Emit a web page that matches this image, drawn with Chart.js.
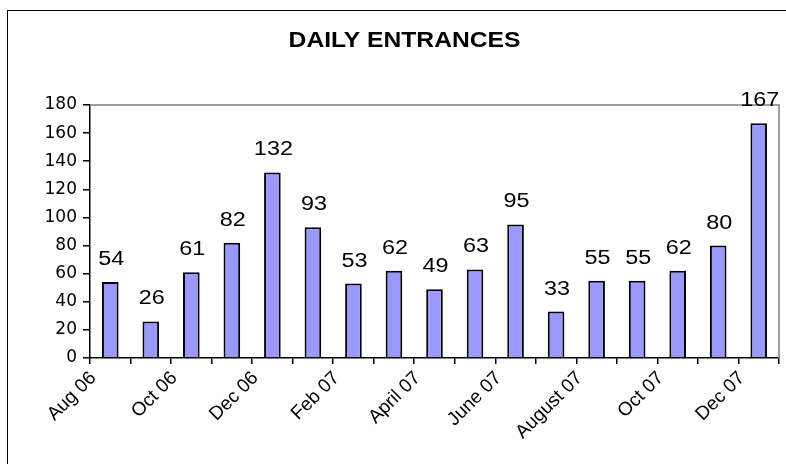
<!DOCTYPE html>
<html>
<head>
<meta charset="utf-8">
<script src="https://cdn.jsdelivr.net/npm/chart.js@4.4.1/dist/chart.umd.min.js"></script>
<style>
  html, body { margin: 0; padding: 0; background: #fff; overflow: hidden; }
  #frame { position: absolute; left: 7px; top: 10px; width: 830px; height: 520px; border: 1.5px solid #000; }
  #wrap { position: absolute; left: 0; top: 0; width: 786px; height: 464px; }
</style>
</head>
<body>
<div id="frame"></div>
<div id="wrap"><canvas id="chart" width="786" height="464"></canvas></div>
<script>
const chartTitle = 'DAILY ENTRANCES'
const months = ['Aug 06', 'Sep 06', 'Oct 06', 'Nov 06', 'Dec 06', 'Jan 07', 'Feb 07', 'Mar 07', 'April 07',
  'May 07', 'June 07', 'July 07', 'August 07', 'Sep 07', 'Oct 07', 'Nov 07', 'Dec 07']
const entrances = [54, 26, 61, 82, 132, 93, 53, 62, 49, 63, 95, 33, 55, 55, 62, 80, 167]
const yMax = 180
const yStep = 20

const FONT = '"Liberation Sans", Arial, sans-serif'

// numbers above the bars, a bit stretched like the original
const valueLabels = {
  id: 'valueLabels',
  afterDatasetsDraw(chart) {
    const ctx = chart.ctx
    const meta = chart.getDatasetMeta(0)
    ctx.save()
    ctx.font = '19.5px ' + FONT
    ctx.fillStyle = '#000'
    ctx.textAlign = 'center'
    ctx.textBaseline = 'alphabetic'
    meta.data.forEach((bar, i) => {
      ctx.save()
      ctx.translate(bar.x + 1, bar.y - 17)
      ctx.scale(1.2, 1)
      ctx.fillText(String(entrances[i]), 0, 0)
      ctx.restore()
    })
    ctx.restore()
  }
}

// gray top/right of plot area + title
const plotFrame = {
  id: 'plotFrame',
  beforeDatasetsDraw(chart) {
    const { ctx, chartArea } = chart
    ctx.save()
    ctx.strokeStyle = '#808080'
    ctx.lineWidth = 1.5
    ctx.beginPath()
    ctx.moveTo(chartArea.left, chartArea.top)
    ctx.lineTo(chartArea.right, chartArea.top)
    ctx.lineTo(chartArea.right, chartArea.bottom)
    ctx.stroke()
    ctx.restore()
  },
  afterDraw(chart) {
    const ctx = chart.ctx
    ctx.save()
    ctx.font = 'bold 22px ' + FONT
    ctx.fillStyle = '#000'
    ctx.textAlign = 'center'
    ctx.textBaseline = 'alphabetic'
    ctx.translate(404.5, 47)
    ctx.scale(1.12, 1)
    ctx.fillText(chartTitle, 0, 0)
    ctx.restore()
  }
}

const ctx = document.getElementById('chart').getContext('2d')

new Chart(ctx, {
  type: 'bar',
  data: {
    labels: months,
    datasets: [{
      label: 'Entrances',
      data: entrances,
      backgroundColor: '#9999ff',
      borderColor: '#000',
      borderWidth: 2,
      barPercentage: 0.41,
      categoryPercentage: 1
    }]
  },
  options: {
    responsive: false,
    animation: false,
    devicePixelRatio: 1,
    layout: { padding: { left: 30, right: 7, top: 105, bottom: 0 } },
    plugins: {
      legend: { display: false },
      tooltip: { enabled: false },
      title: { display: false }
    },
    scales: {
      x: {
        offset: true,
        grid: { display: true, offset: true, drawOnChartArea: false, tickLength: 6, color: '#000', lineWidth: 1.5 },
        border: { display: true, color: '#000', width: 1.5 },
        ticks: {
          autoSkip: false,
          maxRotation: 45,
          minRotation: 45,
          padding: 3,
          labelOffset: -17,
          color: '#000',
          font: { family: FONT, size: 19 },
          callback: (v, i) => (i % 2 === 0 ? months[i] : '')
        },
        afterFit: (scale) => { scale.height = 106 }
      },
      y: {
        min: 0,
        max: yMax,
        grid: { display: true, drawOnChartArea: false, tickLength: 7, color: '#000', lineWidth: 1.5 },
        border: { display: true, color: '#000', width: 1.5 },
        ticks: {
          stepSize: yStep,
          padding: 6,
          color: '#000',
          font: { family: '"DejaVu Sans", sans-serif', size: 17 }
        },
        afterFit: (scale) => { scale.width = 60 }
      }
    }
  },
  plugins: [valueLabels, plotFrame]
})
</script>
</body>
</html>
